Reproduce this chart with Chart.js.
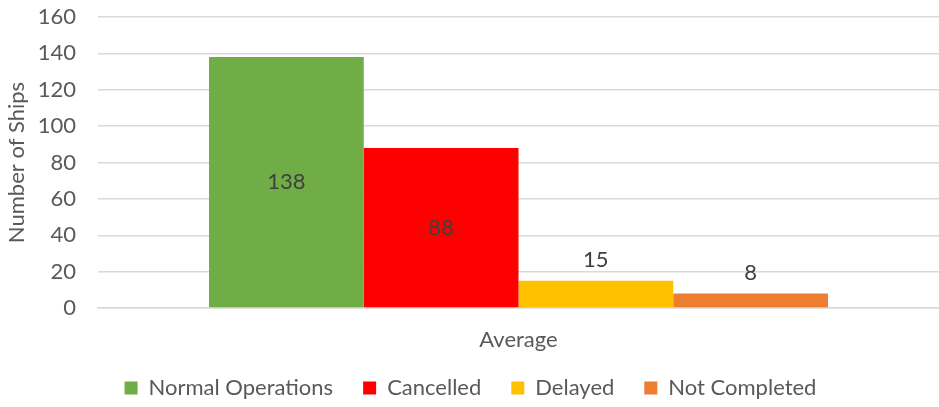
<!DOCTYPE html>
<html><head><meta charset="utf-8">
<script src="https://cdn.jsdelivr.net/npm/chart.js@4/dist/chart.umd.min.js"></script>
<style>html,body{margin:0;padding:0;background:#fff}#wrap{width:939px;height:407px}</style>
</head><body><div id="wrap"><canvas id="c" width="939" height="407"></canvas></div>
<script>
const categories = ["Average"];
const seriesNames = ["Normal Operations", "Cancelled", "Delayed", "Not Completed"];
const normalOps = [138];
const cancelled = [88];
const delayed = [15];
const notCompleted = [8];
const yTicks = [0, 20, 40, 60, 80, 100, 120, 140, 160];
const colors = ["#70AD47", "#FF0000", "#FFC000", "#ED7D31"];
const FONT = "Lato, 'Open Sans', sans-serif";
const TXT = "#595959";

const labelPlugin = {
  id: 'barLabels',
  beforeLayout(chart) {
    const lg = chart.legend;
    if (lg && !lg._patched) {
      const orig = lg.fit.bind(lg);
      lg.fit = function () { orig(); this.height = 47; };
      lg._patched = true;
    }
  },
  afterLayout(chart) {
    const lg = chart.legend;
    if (lg) { lg.top -= 11; lg.height += 11; }
  },
  afterDatasetsDraw(chart) {
    const ctx = chart.ctx;
    ctx.save();
    ctx.font = "22px " + FONT;
    ctx.fillStyle = "#404040";
    ctx.textAlign = "center";
    chart.data.datasets.forEach((ds, i) => {
      const meta = chart.getDatasetMeta(i);
      meta.data.forEach((bar, j) => {
        const v = ds.data[j];
        const h = bar.base - bar.y;
        if (h > 60) {
          ctx.textBaseline = "middle";
          ctx.fillText(String(v), bar.x, (bar.y + bar.base) / 2);
        } else {
          ctx.textBaseline = "bottom";
          ctx.fillText(String(v), bar.x, bar.y - 10);
        }
      });
    });
    ctx.restore();
  }
};

const values = [normalOps, cancelled, delayed, notCompleted];
new Chart(document.getElementById('c'), {
  type: 'bar',
  data: {
    labels: categories,
    datasets: seriesNames.map((n, i) => ({
      label: n, data: values[i], backgroundColor: colors[i],
      categoryPercentage: 0.736, barPercentage: 1.0, borderWidth: 0
    }))
  },
  options: {
    responsive: false, animation: false,
    layout: { padding: { top: 17, right: 0, left: 2, bottom: 2 } },
    plugins: {
      legend: {
        position: 'bottom',
        labels: { font: { family: FONT, size: 22 }, color: TXT, boxWidth: 13, boxHeight: 13, padding: 30 }
      },
      tooltip: { enabled: false }
    },
    scales: {
      x: {
        afterFit(scale) { scale.height = 50; },
        grid: { display: false, drawTicks: false },
        border: { display: true, color: "#D9D9D9", width: 1.5 },
        ticks: { font: { family: FONT, size: 22 }, color: TXT, padding: 19 }
      },
      y: {
        min: 0, max: 160,
        afterBuildTicks(scale) { scale.ticks = yTicks.map(v => ({ value: v })); },
        afterFit(scale) { scale.width = 96; scale.paddingTop = 0; scale.paddingBottom = 0; },
        grid: { color: "#D9D9D9", lineWidth: 1.5, drawTicks: false },
        border: { display: false },
        ticks: { font: { family: FONT, size: 22 }, color: TXT, padding: 22 },
        title: { display: true, text: "Number of Ships", font: { family: FONT, size: 22 }, color: TXT, padding: 2 }
      }
    }
  },
  plugins: [labelPlugin]
});
</script></body></html>
